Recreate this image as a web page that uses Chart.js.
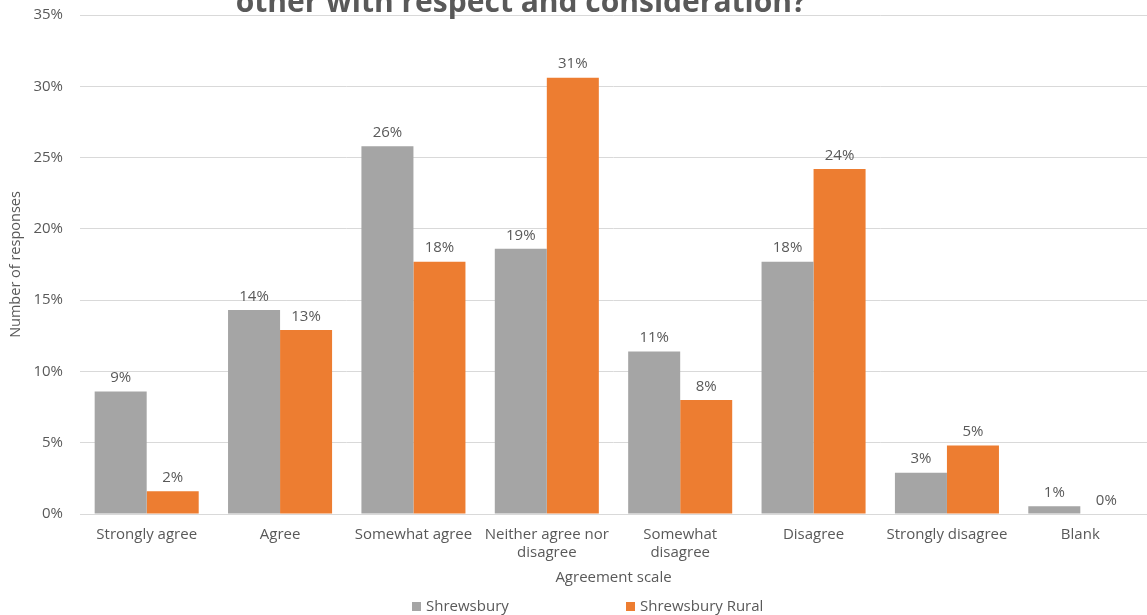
<!DOCTYPE html>
<html>
<head>
<meta charset="utf-8">
<script src="https://cdn.jsdelivr.net/npm/chart.js@4.4.1/dist/chart.umd.min.js"></script>
<style>
  html, body { margin: 0; padding: 0; background: #fff; }
  #wrap { width: 1147px; height: 615px; position: relative; }
</style>
</head>
<body>
<div id="wrap"><canvas id="chart" width="1147" height="615"></canvas></div>
<script>
const categories = ['Strongly agree', 'Agree', 'Somewhat agree', ['Neither agree nor', 'disagree'],
  ['Somewhat', 'disagree'], 'Disagree', 'Strongly disagree', 'Blank'];
const shrewsbury = [8.6, 14.3, 25.8, 18.6, 11.4, 17.7, 2.9, 0.55];
const shrewsburyRural = [1.6, 12.9, 17.7, 30.6, 8.0, 24.2, 4.8, 0];
const seriesNames = ['Shrewsbury', 'Shrewsbury Rural'];
const seriesColors = ['#A5A5A5', '#ED7D31'];
const titleText = 'other with respect and consideration?';

const textColor = '#595959';
const fontFamily = "'Open Sans', sans-serif";

// value labels above each bar
const barLabels = {
  id: 'barLabels',
  afterDatasetsDraw(chart) {
    const ctx = chart.ctx;
    ctx.save();
    ctx.font = '15px ' + fontFamily;
    ctx.fillStyle = textColor;
    ctx.textAlign = 'center';
    ctx.textBaseline = 'bottom';
    chart.data.datasets.forEach((ds, i) => {
      chart.getDatasetMeta(i).data.forEach((bar, j) => {
        ctx.fillText(Math.round(ds.data[j]) + '%', bar.x, bar.y - 6);
      });
    });
    ctx.restore();
  }
};

// clipped title at the top and legend at the bottom
const decorations = {
  id: 'decorations',
  afterDraw(chart) {
    const ctx = chart.ctx;
    ctx.save();
    ctx.fillStyle = textColor;
    ctx.font = 'bold 30px ' + fontFamily;
    ctx.textAlign = 'center';
    ctx.textBaseline = 'alphabetic';
    ctx.fillText(titleText, 521, 12);

    ctx.font = '15px ' + fontFamily;
    ctx.textAlign = 'left';
    ctx.textBaseline = 'middle';
    const legendX = [412, 626];
    seriesNames.forEach((name, i) => {
      ctx.fillStyle = seriesColors[i];
      ctx.fillRect(legendX[i], 602, 9, 9);
      ctx.fillStyle = textColor;
      ctx.fillText(name, legendX[i] + 14, 607);
    });
    ctx.restore();
  }
};

new Chart(document.getElementById('chart'), {
  type: 'bar',
  data: {
    labels: categories,
    datasets: [
      {label: seriesNames[0], data: shrewsbury, backgroundColor: seriesColors[0]},
      {label: seriesNames[1], data: shrewsburyRural, backgroundColor: seriesColors[1]}
    ]
  },
  plugins: [barLabels, decorations],
  options: {
    responsive: false,
    animation: false,
    devicePixelRatio: 1,
    layout: {padding: {top: 15, bottom: 24, left: 7, right: 0}},
    datasets: {bar: {categoryPercentage: 0.78, barPercentage: 1, borderWidth: 0}},
    scales: {
      x: {
        grid: {display: false},
        border: {color: '#D9D9D9'},
        ticks: {color: textColor, font: {size: 15, family: fontFamily}, maxRotation: 0, autoSkip: false, padding: 4},
        title: {display: true, text: 'Agreement scale', color: textColor, font: {size: 15, family: fontFamily}, padding: {top: 4}},
        afterFit(scale) { scale.height = 77; }
      },
      y: {
        min: 0,
        max: 35,
        ticks: {stepSize: 5, color: textColor, font: {size: 15, family: fontFamily}, padding: 17, callback: v => v + '%'},
        grid: {color: '#D9D9D9', drawTicks: false},
        border: {display: false},
        title: {display: true, text: 'Number of responses', color: textColor, font: {size: 14.5, family: fontFamily}, padding: 0},
        afterFit(scale) {
          scale.width = 73;
          scale.paddingTop = 0; // let the top label overhang like the original
          scale.paddingBottom = 0;
        }
      }
    },
    plugins: {
      legend: {display: false},
      tooltip: {enabled: false}
    }
  }
});
</script>
</body>
</html>
